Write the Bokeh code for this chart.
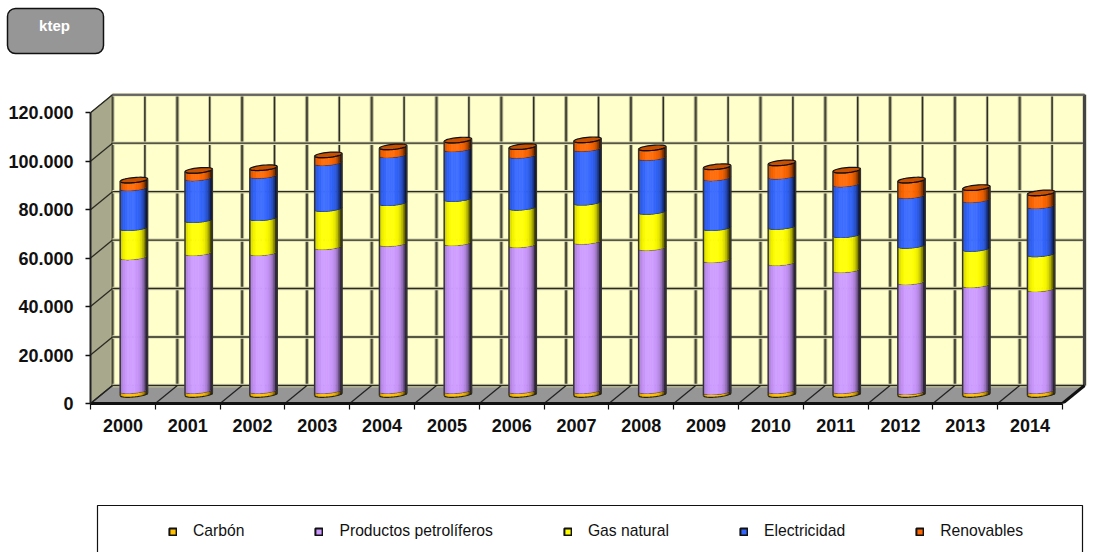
from bokeh.embed import file_html
from bokeh.layouts import column, row
from bokeh.models import FixedTicker, Legend, LegendItem, Range1d
from bokeh.core.properties import value
from bokeh.plotting import figure
from bokeh.resources import INLINE
import numpy as np

# Final energy consumption by source, ktep
years = list(range(2000, 2015))
series_names = ["Carbón", "Productos petrolíferos", "Gas natural", "Electricidad", "Renovables"]
series_colors = ["#ffc000", "#cc99ff", "#ffff00", "#3366ff", "#ff6600"]
carbon = [1700, 1700, 1700, 1700, 1700, 1700, 1700, 1700, 1700, 1200, 1700, 1700, 1200, 1700, 1700]
oil = [55200, 56900, 56900, 59400, 60700, 61000, 60200, 61600, 59000, 54500, 52800, 49900, 45400, 43700, 42000]
gas = [12000, 13600, 14400, 15700, 16800, 18200, 15400, 16100, 14900, 13200, 14900, 14400, 15000, 14900, 14400]
power = [16500, 17300, 17500, 19000, 19800, 20600, 21500, 22200, 22300, 20600, 20800, 21000, 20600, 20200, 19900]
renewables = [3100, 3000, 3100, 3100, 3200, 3500, 3500, 3500, 3900, 4500, 5400, 5600, 6300, 4900, 5200]
y_ticks = [0, 20000, 40000, 60000, 80000, 100000, 120000]
y_tick_labels = ["0", "20.000", "40.000", "60.000", "80.000", "100.000", "120.000"]
unit_label = "ktep"

PX_PER_YEAR = 64.8
PX_PER_UNIT = 290.8 / 120000
DEPTH_X = 22 / PX_PER_YEAR
DEPTH_Y = 18 / PX_PER_UNIT
HALF_W = 13.7 / PX_PER_YEAR
ARC_B = 2.5 / PX_PER_UNIT
ARC_T = 1.3 / PX_PER_UNIT
X0, X1 = years[0] - 0.5, years[-1] + 0.5
Y_TOP = y_ticks[-1]
FONT = "Liberation Sans"


def pixel_strip(height):
    """A figure with no axes whose data space is the strip's own pixels, y pointing down."""
    f = figure(width=1094, height=height, output_backend="svg", toolbar_location=None,
               x_range=Range1d(0, 1094), y_range=Range1d(height, 0),
               x_axis_type=None, y_axis_type=None, min_border=0,
               outline_line_color=None)
    f.grid.visible = False
    return f


# Header strip with the unit badge
header = pixel_strip(60)
header.quad(left=[7], right=[103], top=[8], bottom=[53], fill_color="#969696", line_color="#111111",
            line_width=1.5, border_radius=8)
header.text(x=[54], y=[25], text=[unit_label], text_font=value(FONT), text_font_style="bold",
            text_font_size="15px", text_color="white", text_align="center", text_baseline="middle")

# Main chart
p = figure(width=1094, height=435, output_backend="svg", toolbar_location=None,
           x_range=Range1d(X0, X0 + 1004 / PX_PER_YEAR),
           y_range=Range1d(0, 343 / PX_PER_UNIT),
           min_border_left=90, min_border_right=0, min_border_top=0, min_border_bottom=92,
           outline_line_color=None, background_fill_color="white")
p.grid.visible = False

# Walls and floor of the 3D box
p.patch([X0, X0 + DEPTH_X, X0 + DEPTH_X, X0], [0, DEPTH_Y, Y_TOP + DEPTH_Y, Y_TOP],
        fill_color="#a8a88c", line_color="#555548", line_width=1)
p.patch([X0 + DEPTH_X, X1 + DEPTH_X, X1 + DEPTH_X, X0 + DEPTH_X],
        [DEPTH_Y, DEPTH_Y, Y_TOP + DEPTH_Y, Y_TOP + DEPTH_Y],
        fill_color="#ffffcc", line_color=None)
p.patch([X0, X1, X1 + DEPTH_X, X0 + DEPTH_X], [0, 0, DEPTH_Y, DEPTH_Y],
        fill_color="#969696", line_color=None)

# Gridlines on the back wall, with a soft halo under each
half_steps = np.arange(X0, X1 + 0.01, 0.5)
major = half_steps[::2] + DEPTH_X
minor = half_steps[1::2] + DEPTH_X
grid_y = [v + DEPTH_Y for v in y_ticks]
p.segment(major, DEPTH_Y, major, Y_TOP + DEPTH_Y, line_color="#b9b98f", line_width=4)
p.segment(major, DEPTH_Y, major, Y_TOP + DEPTH_Y, line_color="#46463a", line_width=2)
p.segment(minor, DEPTH_Y, minor, Y_TOP + DEPTH_Y, line_color="#c9c9a0", line_width=3)
p.segment(minor, DEPTH_Y, minor, Y_TOP + DEPTH_Y, line_color="#2c2c24", line_width=1.5)
p.segment(X0 + DEPTH_X, grid_y, X1 + DEPTH_X, grid_y, line_color="#dcdcb0", line_width=3.5)
p.segment(X0 + DEPTH_X, grid_y, X1 + DEPTH_X, grid_y, line_color="#2a2a22", line_width=1.4)
p.segment(X0, y_ticks, X0 + DEPTH_X, grid_y, line_color="#2a2a22", line_width=1.3)
p.segment(half_steps[::2], 0, major, DEPTH_Y, line_color="#222222", line_width=1.3)
p.segment(X1 + DEPTH_X, DEPTH_Y, X1 + DEPTH_X, Y_TOP + DEPTH_Y, line_color="#444444", line_width=3)
p.segment(X0 + DEPTH_X, Y_TOP + DEPTH_Y, X1 + DEPTH_X, Y_TOP + DEPTH_Y, line_color="#666666", line_width=2)
p.segment(X1, 0, X1 + DEPTH_X, DEPTH_Y, line_color="#111111", line_width=3)


def shade(color, u):
    """Cylinder shading: dark at both edges, brightest left of centre."""
    rgb = np.array([int(color[i:i + 2], 16) for i in (1, 3, 5)], dtype=float)
    d = abs(u + 0.15)
    rgb = rgb * (1 - 0.55 * d ** 4) if d > 0.3 else rgb + (255 - rgb) * 0.06
    return "#%02x%02x%02x" % tuple(int(c) for c in rgb)


# Stacked cylinders, drawn from the bottom segment up as narrow shaded strips
x_centres = np.array(years) + DEPTH_X / 2
strip_u = np.linspace(-1, 1, 17)
strip_mid = (strip_u[:-1] + strip_u[1:]) / 2
arc_u = np.linspace(-1, 1, 25)


def arc_offset(u):
    return -ARC_B * np.sqrt(np.clip(1 - u ** 2, 0, 1)) + ARC_T * u


base = DEPTH_Y / 2
bottoms = np.zeros(len(years)) + base
stacks = [carbon, oil, gas, power, renewables]
for vals, color in zip(stacks, series_colors):
    tops = bottoms + np.array(vals)
    for u in strip_mid:
        shift = arc_offset(u)
        c = shade(color, u)
        p.vbar(x_centres + u * HALF_W, width=2 * HALF_W / 16, bottom=bottoms + shift, top=tops + shift,
               fill_color=c, line_color=c, line_width=0.8)
    p.multi_line([list(c + arc_u * HALF_W) for c in x_centres],
                 [list(t + arc_offset(arc_u)) for t in tops], line_color="#111111", line_width=1.4)
    bottoms = tops

# Lower rim, upper cap of each stack and the outline down both sides
p.multi_line([list(c + arc_u * HALF_W) for c in x_centres],
             [list(base + arc_offset(arc_u)) for _ in x_centres], line_color="#222222", line_width=1.2)
theta = np.linspace(0, 2 * np.pi, 37)
p.patches([list(c + HALF_W * np.cos(theta)) for c in x_centres],
          [list(t + ARC_B * np.sin(theta) + ARC_T * np.cos(theta)) for t in bottoms],
          fill_color="#c85000", line_color="#111111", line_width=1.2)
p.segment(x_centres - HALF_W, base - ARC_T, x_centres - HALF_W, bottoms - ARC_T, line_color="#333333", line_width=1.4)
p.segment(x_centres + HALF_W, base + ARC_T, x_centres + HALF_W, bottoms + ARC_T, line_color="#333333", line_width=1.4)

# Axes
yaxis = p.yaxis[0]
yaxis.ticker = FixedTicker(ticks=y_ticks)
yaxis.major_label_overrides = dict(zip(y_ticks, y_tick_labels))
yaxis.bounds = (0, Y_TOP)
yaxis.minor_tick_line_color = None
yaxis.major_tick_in = 0
yaxis.major_tick_out = 5
yaxis.major_tick_line_color = "#111111"
yaxis.major_tick_line_width = 1.5
yaxis.axis_line_color = "#222222"
yaxis.axis_line_width = 2
yaxis.major_label_standoff = 12
yaxis.major_label_text_font = FONT
yaxis.major_label_text_font_style = "bold"
yaxis.major_label_text_font_size = "18px"
yaxis.major_label_text_color = "#111111"

xaxis = p.xaxis[0]
xaxis.ticker = FixedTicker(ticks=years, minor_ticks=list(half_steps[::2]))
xaxis.major_label_overrides = {y: str(y) for y in years}
xaxis.bounds = (X0, X1)
xaxis.major_tick_line_color = None
xaxis.major_tick_in = 0
xaxis.major_tick_out = 0
xaxis.minor_tick_in = 0
xaxis.minor_tick_out = 6
xaxis.minor_tick_line_color = "#111111"
xaxis.minor_tick_line_width = 1.2
xaxis.axis_line_color = "#111111"
xaxis.axis_line_width = 3
xaxis.major_label_standoff = 9
xaxis.major_label_text_font = FONT
xaxis.major_label_text_font_style = "bold"
xaxis.major_label_text_font_size = "18px"
xaxis.major_label_text_color = "#111111"

# Footer strip with the framed legend, whose lower edge runs off the page
footer = pixel_strip(57)
footer.quad(left=[97], right=[1082], top=[10], bottom=[80], fill_color="white", line_color="#111111",
            line_width=1.2)
items = []
for name, color in zip(series_names, series_colors):
    # Hidden glyph: it only lends its colours to the legend swatch
    key = footer.vbar(x=[0], width=[1], bottom=[0], top=[1], fill_color=color, line_color="#111111",
                      line_width=2, visible=False)
    items.append(LegendItem(label=name, renderers=[key]))
legend = Legend(items=items, orientation="horizontal", location=(168, 12),
                margin=0, padding=0, spacing=70, label_standoff=16,
                glyph_width=9, glyph_height=9, border_line_color=None, background_fill_alpha=0,
                label_text_font=FONT, label_text_font_size="15.7px", label_text_color="#111111")
footer.add_layout(legend)

# Each strip gets its own row so its frame keeps the full page width
page = column(row(header), p, row(footer), spacing=0)
open("out.html", "w").write(file_html(page, INLINE))
